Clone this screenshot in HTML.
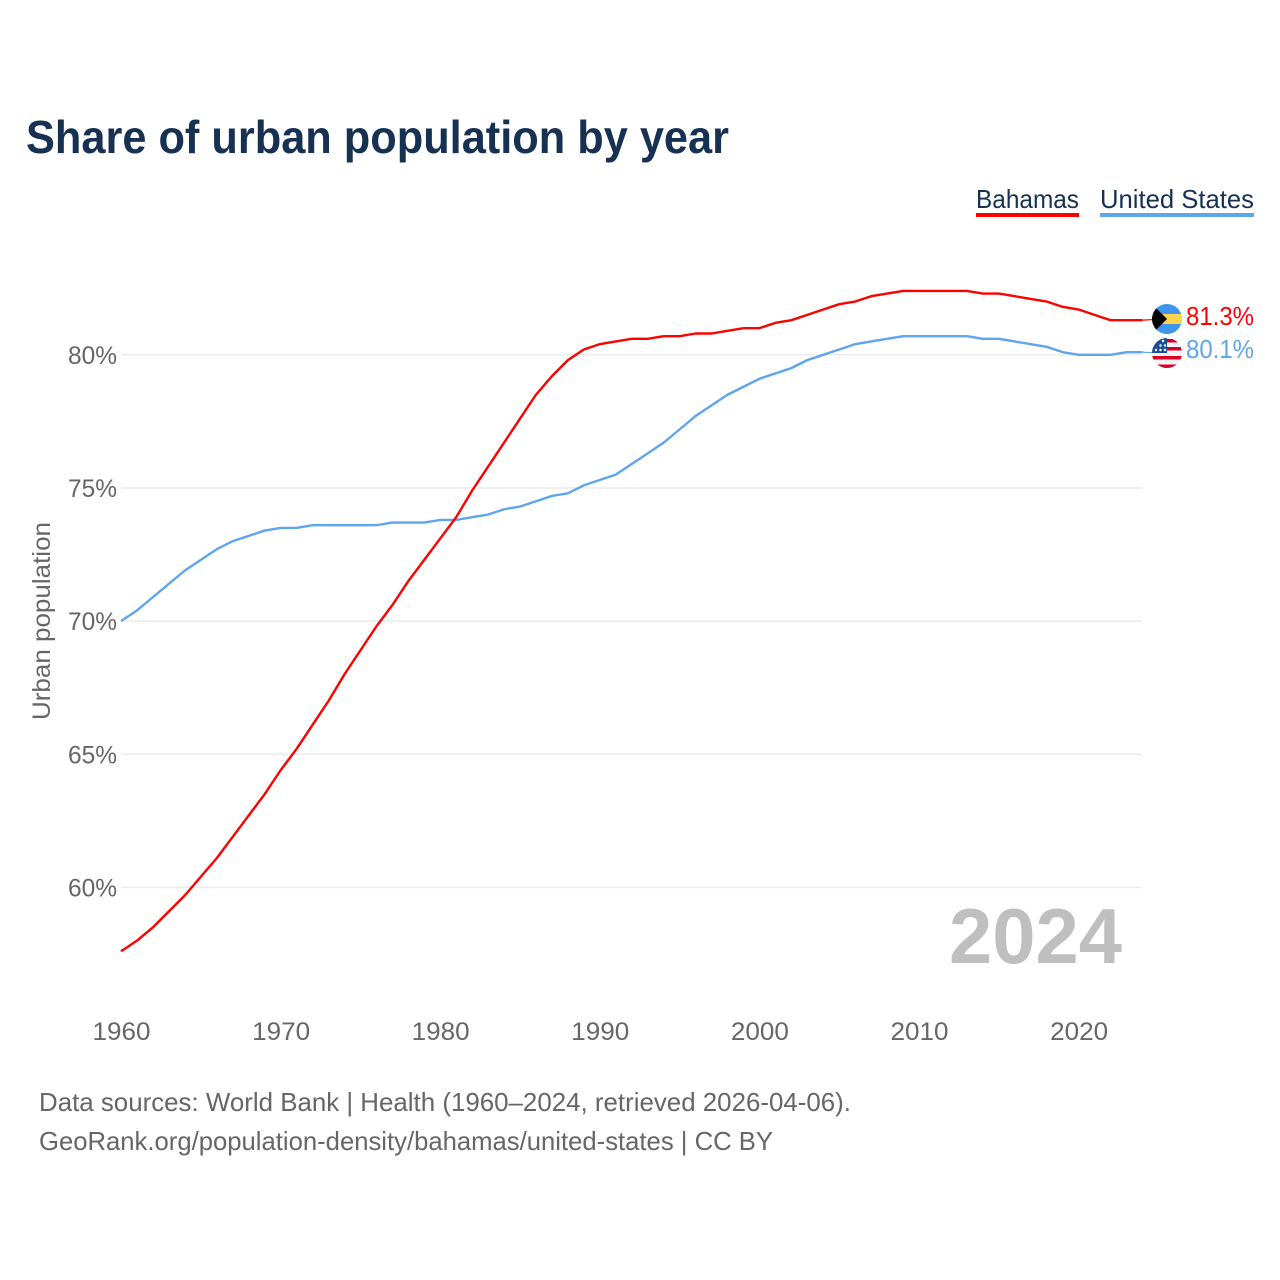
<!DOCTYPE html>
<html lang="en">
<head>
<meta charset="utf-8">
<title>Share of urban population by year</title>
<style>
  html, body { margin: 0; padding: 0; background: #fff; }
  svg { display: block; font-family: "Liberation Sans", sans-serif; }
</style>
</head>
<body>
<svg id="chart" xmlns="http://www.w3.org/2000/svg" width="1280" height="1280" viewBox="0 0 1280 1280">
  <defs>
    <clipPath id="clip-bs"><circle cx="1167" cy="319" r="15"/></clipPath>
    <clipPath id="clip-us"><circle cx="1167" cy="353" r="15"/></clipPath>
  </defs>
  <rect x="0" y="0" width="1280" height="1280" fill="#fff"/>
  <text x="26" y="153" font-size="46" font-weight="700" fill="#173153" textLength="703" lengthAdjust="spacingAndGlyphs">Share of urban population by year</text>

  <g>
    <text x="976" y="208" font-size="26" fill="#173153" textLength="103" lengthAdjust="spacingAndGlyphs">Bahamas</text>
    <rect x="976" y="213" width="103" height="4" fill="#ff0000"/>
  </g>
  <g>
    <text x="1100" y="208" font-size="26" fill="#173153" textLength="154" lengthAdjust="spacingAndGlyphs">United States</text>
    <rect x="1100" y="213" width="154" height="4" fill="#5fa5ee"/>
  </g>

  <g id="grid"></g>
  <g id="yticks"></g>
  <g id="xticks"></g>
  <text transform="translate(50,621) rotate(-90)" text-anchor="middle" font-size="25" fill="#666" textLength="198" lengthAdjust="spacingAndGlyphs">Urban population</text>

  <text x="1122" y="963" text-anchor="end" font-size="78" font-weight="700" fill="#bfbfbf" textLength="173" lengthAdjust="spacingAndGlyphs">2024</text>

  <g id="series"></g>

  <g clip-path="url(#clip-bs)">
    <rect x="1152" y="304" width="30" height="30" fill="#3f94ee"/>
    <rect x="1152" y="314" width="30" height="10" fill="#fdd349"/>
    <path d="M1152 304 L1167 319 L1152 334 Z" fill="#000"/>
  </g>
  <g clip-path="url(#clip-us)">
    <rect x="1152" y="338" width="30" height="30" fill="#f4f4f4"/>
    <rect x="1152" y="339" width="30" height="3.5" fill="#d80027"/>
    <rect x="1152" y="347" width="30" height="3.5" fill="#d80027"/>
    <rect x="1152" y="356" width="30" height="3.5" fill="#d80027"/>
    <rect x="1152" y="364.500" width="30" height="3.5" fill="#d80027"/>
    <rect x="1152" y="338" width="15" height="15" fill="#1b4f9c"/>
    <circle cx="1156" cy="350" r="1.200" fill="#fff"/>
    <circle cx="1160.500" cy="350" r="1.200" fill="#fff"/>
    <circle cx="1165" cy="350" r="1.200" fill="#fff"/>
    <circle cx="1160.500" cy="345.500" r="1.200" fill="#fff"/>
    <circle cx="1165" cy="345.500" r="1.200" fill="#fff"/>
    <circle cx="1163" cy="341" r="1.200" fill="#fff"/>
  </g>

  <text id="end-label-bahamas" x="1186" y="325" font-size="26" fill="#ff0000" textLength="68" lengthAdjust="spacingAndGlyphs"></text>
  <text id="end-label-us" x="1186" y="358" font-size="26" fill="#5fa5ee" textLength="68" lengthAdjust="spacingAndGlyphs"></text>

  <text x="39" y="1111" font-size="26" fill="#666" textLength="812" lengthAdjust="spacingAndGlyphs">Data sources: World Bank | Health (1960–2024, retrieved 2026-04-06).</text>
  <text x="39" y="1150" font-size="26" fill="#666" textLength="734" lengthAdjust="spacingAndGlyphs">GeoRank.org/population-density/bahamas/united-states | CC BY</text>
</svg>
<script>
const startYear = 1960;
const bahamasValues = [57.6,58.0,58.5,59.1,59.7,60.4,61.1,61.9,62.7,63.5,64.4,65.2,66.1,67.0,68.0,68.9,69.8,70.6,71.5,72.3,73.1,73.9,74.9,75.8,76.7,77.6,78.5,79.2,79.8,80.2,80.4,80.5,80.6,80.6,80.7,80.7,80.8,80.8,80.9,81.0,81.0,81.2,81.3,81.5,81.7,81.9,82.0,82.2,82.3,82.4,82.4,82.4,82.4,82.4,82.3,82.3,82.2,82.1,82.0,81.8,81.7,81.5,81.3,81.3,81.3];
const unitedStatesValues = [70.0,70.4,70.9,71.4,71.9,72.3,72.7,73.0,73.2,73.4,73.5,73.5,73.6,73.6,73.6,73.6,73.6,73.7,73.7,73.7,73.8,73.8,73.9,74.0,74.2,74.3,74.5,74.7,74.8,75.1,75.3,75.5,75.9,76.3,76.7,77.2,77.7,78.1,78.5,78.8,79.1,79.3,79.5,79.8,80.0,80.2,80.4,80.5,80.6,80.7,80.7,80.7,80.7,80.7,80.6,80.6,80.5,80.4,80.3,80.1,80.0,80.0,80.0,80.1,80.1];
const yTickValues = [60,65,70,75,80];
const xTickYears = [1960,1970,1980,1990,2000,2010,2020];

const NS = 'http://www.w3.org/2000/svg';
function xScale(year) { return 121 + (year - 1960) * 15.96; }
function yScale(value) { return 354.8 + (80 - value) * 26.63; }
function make(tag, attrs, text) {
  const el = document.createElementNS(NS, tag);
  for (const k in attrs) el.setAttribute(k, attrs[k]);
  if (text !== undefined) el.textContent = text;
  return el;
}

const grid = document.getElementById('grid');
const yticks = document.getElementById('yticks');
yTickValues.forEach(function (v) {
  const y = yScale(v);
  const line = make('line', { x1: 121, x2: 1142, y1: y, y2: y, stroke: '#ececec', 'stroke-width': 1.5 });
  
  
  grid.appendChild(line);
  const label = make('text', { x: 117, y: y + 9, 'text-anchor': 'end', 'font-size': 25, fill: '#666', textLength: 49, lengthAdjust: 'spacingAndGlyphs' }, v + '%');
  
  
  yticks.appendChild(label);
});

const xticks = document.getElementById('xticks');
xTickYears.forEach(function (yr) {
  const label = make('text', { x: xScale(yr) + 0.5, y: 1040, 'text-anchor': 'middle', 'font-size': 25, fill: '#666', textLength: 58, lengthAdjust: 'spacingAndGlyphs' }, String(yr));
  
  
  xticks.appendChild(label);
});

function pathFor(values) {
  return values.map(function (v, i) {
    return (i ? 'L' : 'M') + xScale(startYear + i).toFixed(2) + ' ' + yScale(v).toFixed(2);
  }).join(' ');
}
const seriesGroup = document.getElementById('series');

const usLine = make('path', { d: pathFor(unitedStatesValues), fill: 'none', stroke: '#5fa5ee', 'stroke-width': 2.4, 'stroke-linejoin': 'round' });


seriesGroup.appendChild(usLine);

const bsLine = make('path', { d: pathFor(bahamasValues), fill: 'none', stroke: '#ff0000', 'stroke-width': 2.4, 'stroke-linejoin': 'round' });


seriesGroup.appendChild(bsLine);

const lastIdx = bahamasValues.length - 1;
const bsEndY = yScale(bahamasValues[lastIdx]);
const bsLead = make('line', { x1: xScale(startYear + lastIdx), x2: 1153, y1: bsEndY, y2: bsEndY - 0.6, stroke: '#ff0000', 'stroke-width': 1.2 });


seriesGroup.appendChild(bsLead);

const usEndY = yScale(unitedStatesValues[lastIdx]);
const usLead = make('line', { x1: xScale(startYear + lastIdx), x2: 1153, y1: usEndY, y2: usEndY + 0.6, stroke: '#5fa5ee', 'stroke-width': 1.2 });


seriesGroup.appendChild(usLead);

document.getElementById('end-label-bahamas').textContent = bahamasValues[lastIdx].toFixed(1) + '%';
document.getElementById('end-label-us').textContent = unitedStatesValues[lastIdx].toFixed(1) + '%';
</script>
</body>
</html>
